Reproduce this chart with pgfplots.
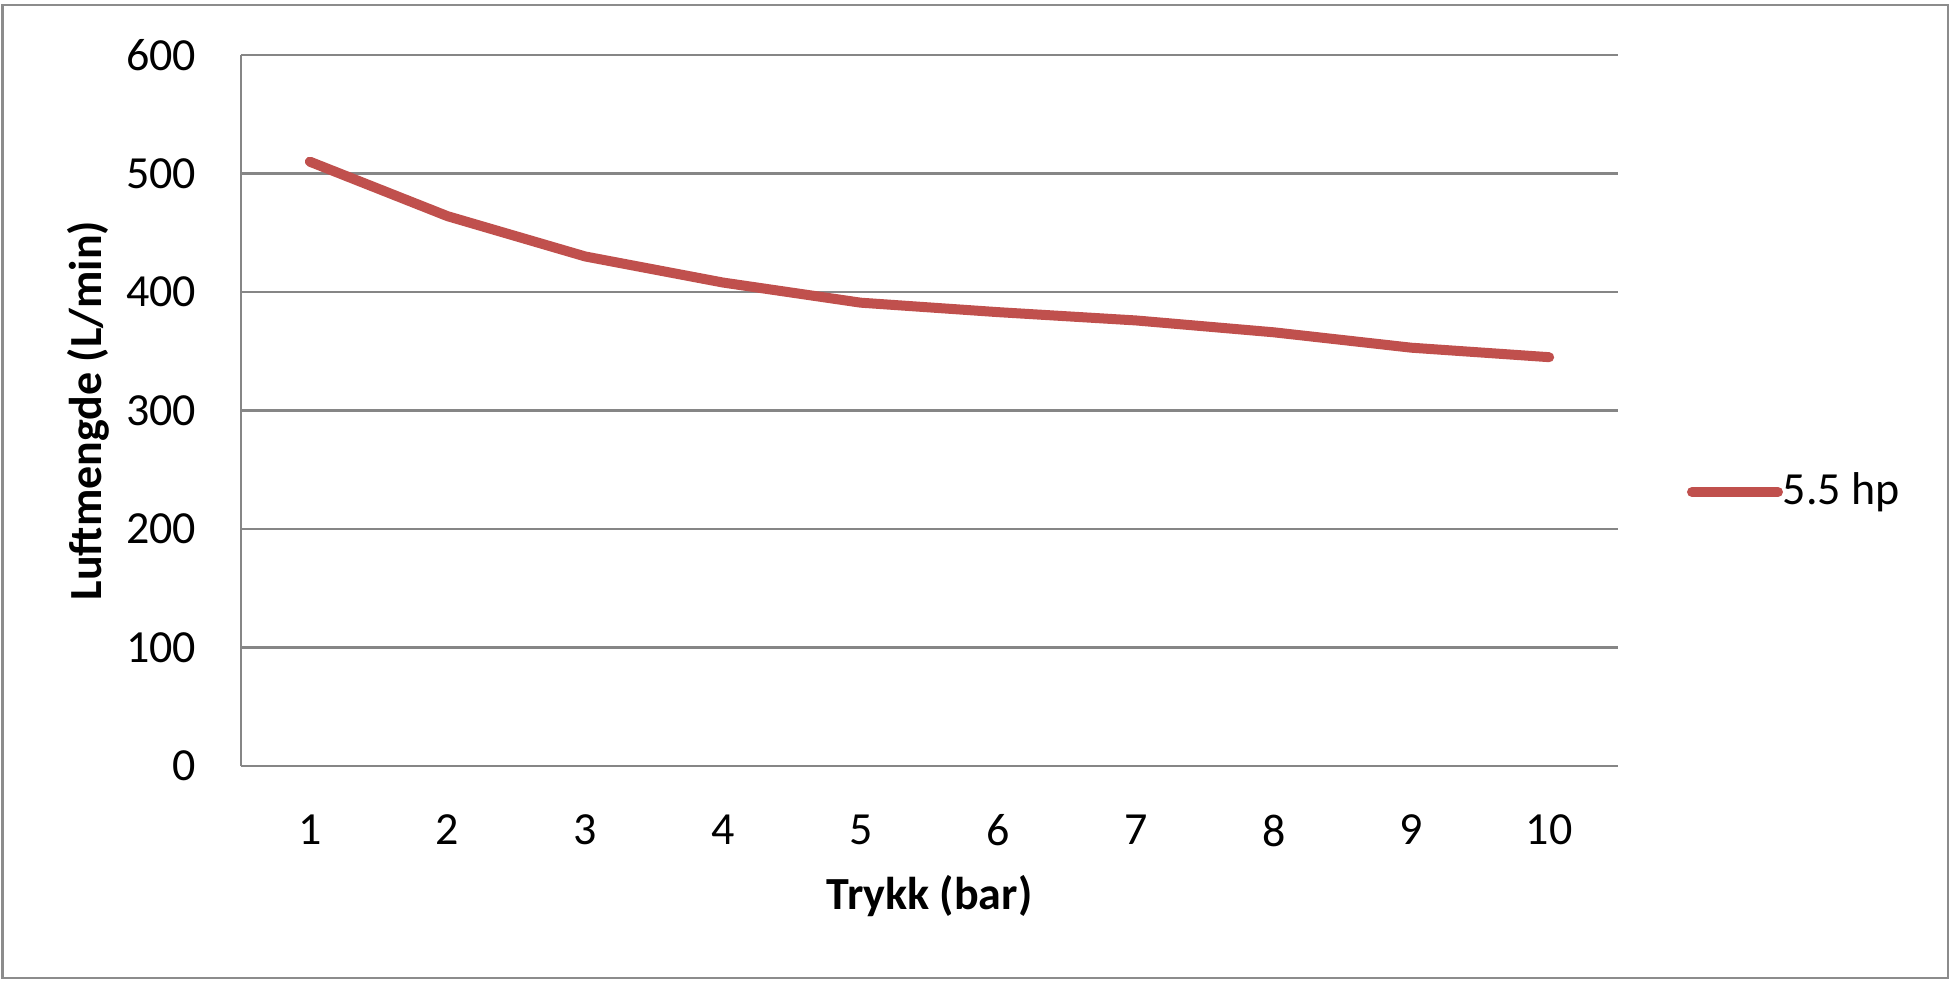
\documentclass[border=0pt]{standalone}
\usepackage{fontspec}
\setmainfont{Carlito}
\usepackage{pgfplots}
\pgfplotsset{compat=1.18}
\definecolor{excelred}{HTML}{C0504D}
\definecolor{gridgray}{HTML}{868686}
\definecolor{framegray}{HTML}{8C8C8C}
\begin{document}
\fontsize{11.5bp}{14bp}\selectfont
\begin{tikzpicture}
\useasboundingbox (0,0) rectangle (489.25bp,246.25bp);
\draw[framegray, line width=0.7bp] (0.6bp,1.75bp) rectangle (487bp,245bp);
\begin{axis}[
  at={(60.25bp,54.75bp)}, anchor=south west,
  scale only axis, width=344.25bp, height=177.75bp,
  xmin=0.5, xmax=10.5, ymin=0, ymax=600,
  xtick={1,...,10}, ytick={0,100,...,600},
  axis x line*=bottom, axis y line*=left,
  axis line style={gridgray, line width=0.6bp, -},
  ymajorgrids, grid style={gridgray, line width=0.6bp},
  major tick length=0pt, tick style={draw=none},
  /pgf/number format/assume math mode=true,
  yticklabel style={inner sep=0pt, anchor=east, xshift=-11bp},
  xticklabel style={inner sep=0pt, anchor=north, yshift=-12bp},
  every axis y label/.style={at={(axis description cs:-0.1111,0.5)}, rotate=90, anchor=center, font=\bfseries},
  every axis x label/.style={at={(axis description cs:0.5,-0.1828)}, anchor=center, font=\bfseries},
  xlabel={Trykk (bar)}, ylabel={Luftmengde (L/min)},
  legend style={draw=none, fill=none, at={(axis description cs:1.0501,0.3854)}, anchor=west, inner sep=0pt, outer sep=0pt, nodes={inner sep=0pt, anchor=west}},
  legend image code/.code={\draw[#1, line cap=round] (1.25bp,0bp) -- (22.75bp,0bp);},
  /tikz/every even column/.append style={column sep=2.5bp},
]
\addplot[excelred, line width=2.5bp, line join=round, line cap=round] coordinates {
(1,510) (2,464) (3,430) (4,408) (5,391) (6,383) (7,376) (8,366) (9,353) (10,345)
};
\addlegendentry{5.5 hp}
\end{axis}
\end{tikzpicture}
\end{document}
